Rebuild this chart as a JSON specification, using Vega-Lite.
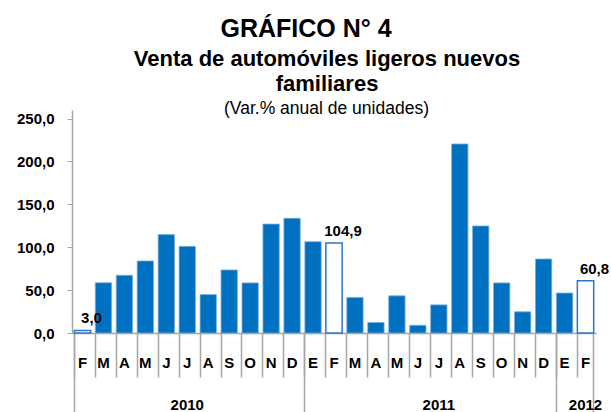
{
  "$schema": "https://vega.github.io/schema/vega-lite/v6.json",
  "width": 524,
  "height": 223,
  "autosize": "none",
  "padding": {"left": 72, "top": 110, "right": 15, "bottom": 79},
  "background": "white",
  "config": {
    "view": {"stroke": null},
    "font": "Liberation Sans",
    "locale": {"number": {"decimal": ",", "thousands": ".", "grouping": [3], "currency": ["$", ""]}}
  },
  "title": {
    "text": "GRÁFICO N° 4",
    "font": "Liberation Sans",
    "fontSize": 25,
    "fontWeight": "bold",
    "color": "black",
    "anchor": "middle",
    "dx": -28,
    "offset": 5
  },
  "data": {
    "values": [
      {"id": "2010-02", "mes": "F", "valor": 3.0, "destacado": true},
      {"id": "2010-03", "mes": "M", "valor": 58.6, "destacado": false},
      {"id": "2010-04", "mes": "A", "valor": 67.3, "destacado": false},
      {"id": "2010-05", "mes": "M", "valor": 84.0, "destacado": false},
      {"id": "2010-06", "mes": "J", "valor": 114.7, "destacado": false},
      {"id": "2010-07", "mes": "J", "valor": 101.0, "destacado": false},
      {"id": "2010-08", "mes": "A", "valor": 44.8, "destacado": false},
      {"id": "2010-09", "mes": "S", "valor": 73.5, "destacado": false},
      {"id": "2010-10", "mes": "O", "valor": 58.4, "destacado": false},
      {"id": "2010-11", "mes": "N", "valor": 127.0, "destacado": false},
      {"id": "2010-12", "mes": "D", "valor": 133.7, "destacado": false},
      {"id": "2011-01", "mes": "E", "valor": 106.5, "destacado": false},
      {"id": "2011-02", "mes": "F", "valor": 104.9, "destacado": true},
      {"id": "2011-03", "mes": "M", "valor": 41.5, "destacado": false},
      {"id": "2011-04", "mes": "A", "valor": 12.3, "destacado": false},
      {"id": "2011-05", "mes": "M", "valor": 43.3, "destacado": false},
      {"id": "2011-06", "mes": "J", "valor": 9.0, "destacado": false},
      {"id": "2011-07", "mes": "J", "valor": 32.8, "destacado": false},
      {"id": "2011-08", "mes": "A", "valor": 220.4, "destacado": false},
      {"id": "2011-09", "mes": "S", "valor": 124.8, "destacado": false},
      {"id": "2011-10", "mes": "O", "valor": 58.4, "destacado": false},
      {"id": "2011-11", "mes": "N", "valor": 24.7, "destacado": false},
      {"id": "2011-12", "mes": "D", "valor": 86.3, "destacado": false},
      {"id": "2012-01", "mes": "E", "valor": 46.6, "destacado": false},
      {"id": "2012-02", "mes": "F", "valor": 60.8, "destacado": true}
    ]
  },
  "resolve": {"axis": {"x": "independent"}},
  "layer": [
    {
      "mark": {"type": "bar"},
      "encoding": {
        "x": {
          "field": "id", "type": "ordinal",
          "scale": {"type": "band", "paddingInner": 0.22, "paddingOuter": 0.11},
          "axis": {
            "orient": "bottom",
            "title": null,
            "labelExpr": "['E','F','M','A','M','J','J','A','S','O','N','D'][toNumber(substring(datum.value,5,7))-1]",
            "labelAngle": 0,
            "labelFontSize": 15,
            "labelFontWeight": "bold",
            "labelColor": "black",
            "labelPadding": 22,
            "ticks": false,
            "tickSize": 0,
            "domain": true,
            "domainColor": "#A6A6A6",
            "domainWidth": 1.5,
            "grid": false
          }
        },
        "y": {
          "field": "valor", "type": "quantitative",
          "scale": {"domain": [0, 250]},
          "axis": {
            "values": [0, 50, 100, 150, 200, 250],
            "format": ".1f",
            "labelFontSize": 15,
            "labelFontWeight": "bold",
            "labelColor": "black",
            "labelPadding": 13,
            "tickSize": 5,
            "tickColor": "#A6A6A6",
            "domainColor": "#A6A6A6",
            "domainWidth": 1.5,
            "grid": false,
            "title": "(Var.% anual de unidades)",
            "titleAngle": 0,
            "titleX": 254,
            "titleY": -2,
            "titleAlign": "center",
            "titleBaseline": "middle",
            "titleFontSize": 17.5,
            "titleFontWeight": "normal",
            "titleColor": "black"
          }
        },
        "fill": {"condition": {"test": "datum.destacado", "value": "white"}, "value": "#0070C0"},
        "stroke": {"condition": {"test": "datum.destacado", "value": "#2F74C7"}, "value": "#7FAEDC"},
        "strokeWidth": {"condition": {"test": "datum.destacado", "value": 1.5}, "value": 0.8}
      }
    },
    {
      "transform": [{"filter": "datum.destacado"}],
      "mark": {"type": "text", "baseline": "bottom", "dy": -4, "dx": 9, "fontSize": 15, "fontWeight": "bold", "color": "black"},
      "encoding": {
        "x": {"field": "id", "type": "ordinal", "scale": {"type": "band"}, "axis": null},
        "y": {"field": "valor", "type": "quantitative"},
        "text": {"field": "valor", "type": "quantitative", "format": ".1f"}
      }
    },
    {
      "mark": {"type": "bar", "opacity": 0},
      "encoding": {
        "x": {
          "field": "id", "type": "ordinal",
          "axis": {"orient": "top", "title": ["Venta de automóviles ligeros nuevos", "familiares"], "titleX": 254.5, "titleY": -45, "titleAlign": "center", "titleBaseline": "alphabetic", "titleLineHeight": 25, "titleFontSize": 22, "titleFontWeight": "bold", "titleColor": "black", "labels": false, "ticks": false, "domain": false, "grid": false}
        }
      }
    },
    {
      "mark": {"type": "bar", "opacity": 0},
      "encoding": {
        "x": {
          "field": "id", "type": "ordinal",
          "axis": {"orient": "bottom", "title": null, "bandPosition": 0, "labels": false, "ticks": true, "tickSize": 44, "tickColor": "#A6A6A6", "tickWidth": 1.5, "domain": false, "grid": false}
        }
      }
    },
    {
      "mark": {"type": "bar", "opacity": 0},
      "encoding": {
        "x": {
          "field": "id", "type": "ordinal",
          "axis": {"orient": "bottom", "title": null, "values": ["2010-02", "2011-01", "2012-01"], "bandPosition": 0, "labels": false, "ticks": true, "tickSize": 80, "tickColor": "#A6A6A6", "tickWidth": 1.5, "domain": false, "grid": false}
        }
      }
    },
    {
      "mark": {"type": "bar", "opacity": 0},
      "encoding": {
        "x": {
          "field": "id", "type": "ordinal",
          "axis": {"orient": "bottom", "title": null, "values": ["2012-02"], "bandPosition": 1, "labels": false, "ticks": true, "tickSize": 80, "tickColor": "#A6A6A6", "tickWidth": 1.5, "domain": false, "grid": false}
        }
      }
    },
    {
      "mark": {"type": "bar", "opacity": 0},
      "encoding": {
        "x": {
          "field": "id", "type": "ordinal",
          "axis": {"orient": "bottom", "title": null, "values": ["2010-07"], "bandPosition": 0.5, "labelExpr": "substring(datum.value,0,4)", "labelAngle": 0, "labelFontSize": 15, "labelFontWeight": "bold", "labelColor": "black", "labelPadding": 64, "ticks": false, "tickSize": 0, "domain": false, "grid": false}
        }
      }
    },
    {
      "mark": {"type": "bar", "opacity": 0},
      "encoding": {
        "x": {
          "field": "id", "type": "ordinal",
          "axis": {"orient": "bottom", "title": null, "values": ["2011-07", "2012-02"], "bandPosition": 0, "labelExpr": "substring(datum.value,0,4)", "labelAngle": 0, "labelFontSize": 15, "labelFontWeight": "bold", "labelColor": "black", "labelPadding": 64, "ticks": false, "tickSize": 0, "domain": false, "grid": false}
        }
      }
    }
  ]
}
